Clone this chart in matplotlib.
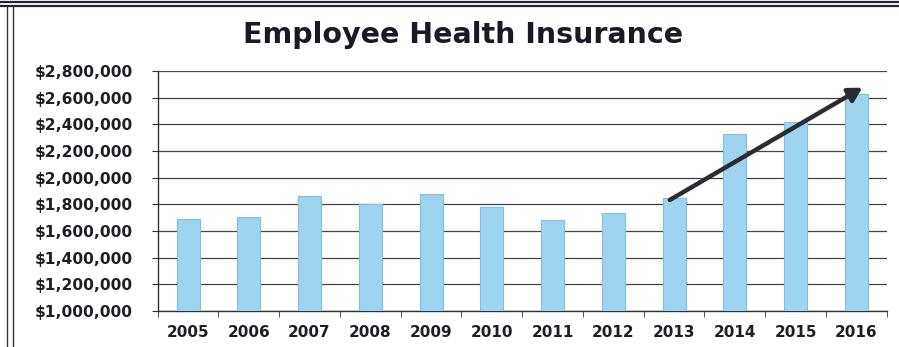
import matplotlib
matplotlib.use("Agg")
import matplotlib.pyplot as plt
from matplotlib.lines import Line2D
from matplotlib.ticker import FuncFormatter, FixedLocator
import numpy as np

years = ["2005", "2006", "2007", "2008", "2009", "2010",
         "2011", "2012", "2013", "2014", "2015", "2016"]
costs = [1690000, 1705000, 1865000, 1800000, 1880000, 1780000,
         1685000, 1733000, 1848000, 2330000, 2420000, 2628000]
yticks = [1000000, 1200000, 1400000, 1600000, 1800000, 2000000,
          2200000, 2400000, 2600000, 2800000]
title = "Employee Health Insurance"

plt.rcParams['font.family'] = ['DejaVu Sans']

fig = plt.figure(figsize=(8.99, 3.47), dpi=100)
ax = fig.add_axes([0.1754, 0.1037, 0.8109, 0.6917])

x = np.arange(len(years))
ax.bar(x, costs, width=0.38, color="#9fd4f1", edgecolor="#78c2ea",
       linewidth=0.8, zorder=3)

ax.set_xlim(-0.5, len(years) - 0.5)
ax.set_ylim(yticks[0], yticks[-1])
ax.set_yticks(yticks)
ax.yaxis.set_major_formatter(FuncFormatter(lambda v, p: "${:,.0f}".format(v)))
ax.set_xticks(x)
ax.set_xticklabels(years)
ax.xaxis.set_minor_locator(FixedLocator(np.arange(-0.5, len(years), 1.0)))
ax.tick_params(axis="x", which="major", length=0, pad=10)
ax.tick_params(axis="x", which="minor", length=4, color="#333333", direction="out")
ax.tick_params(axis="y", length=4, color="#333333", pad=14)
for lab in ax.get_xticklabels():
    lab.set_fontsize(11)
    lab.set_fontweight("bold")
    lab.set_color("#1e1e28")
for lab in ax.get_yticklabels():
    lab.set_fontsize(11.2)
    lab.set_fontweight("bold")
    lab.set_color("#1e1e28")

ax.grid(axis="y", color="#444444", linewidth=0.9, zorder=0)
for s in ["top", "right"]:
    ax.spines[s].set_visible(False)
ax.spines["left"].set_color("#333333")
ax.spines["bottom"].set_color("#333333")
ax.spines["left"].set_linewidth(1.0)
ax.spines["bottom"].set_linewidth(1.0)

fig.text(0.515, 0.875, title, ha="center", va="baseline",
         fontsize=20.5, fontweight="bold", color="#1a1a26")

ax.annotate("", xy=(11.1, 2675000), xytext=(7.93, 1833000),
            arrowprops=dict(arrowstyle="-|>,head_length=0.8,head_width=0.45",
                            color="#2b2b33", lw=3.2, shrinkA=0, shrinkB=0),
            zorder=5)

# scanned frame lines
for yy in [1 - 1.7 / 347, 1 - 5.7 / 347]:
    fig.add_artist(Line2D([0, 1], [yy, yy], color="#222230", lw=1.6,
                          transform=fig.transFigure))
for xx in [7.3 / 899, 13.3 / 899]:
    fig.add_artist(Line2D([xx, xx], [0, 1 - 7 / 347], color="#333340", lw=1.0,
                          transform=fig.transFigure))

fig.savefig("out.png", dpi=100)
